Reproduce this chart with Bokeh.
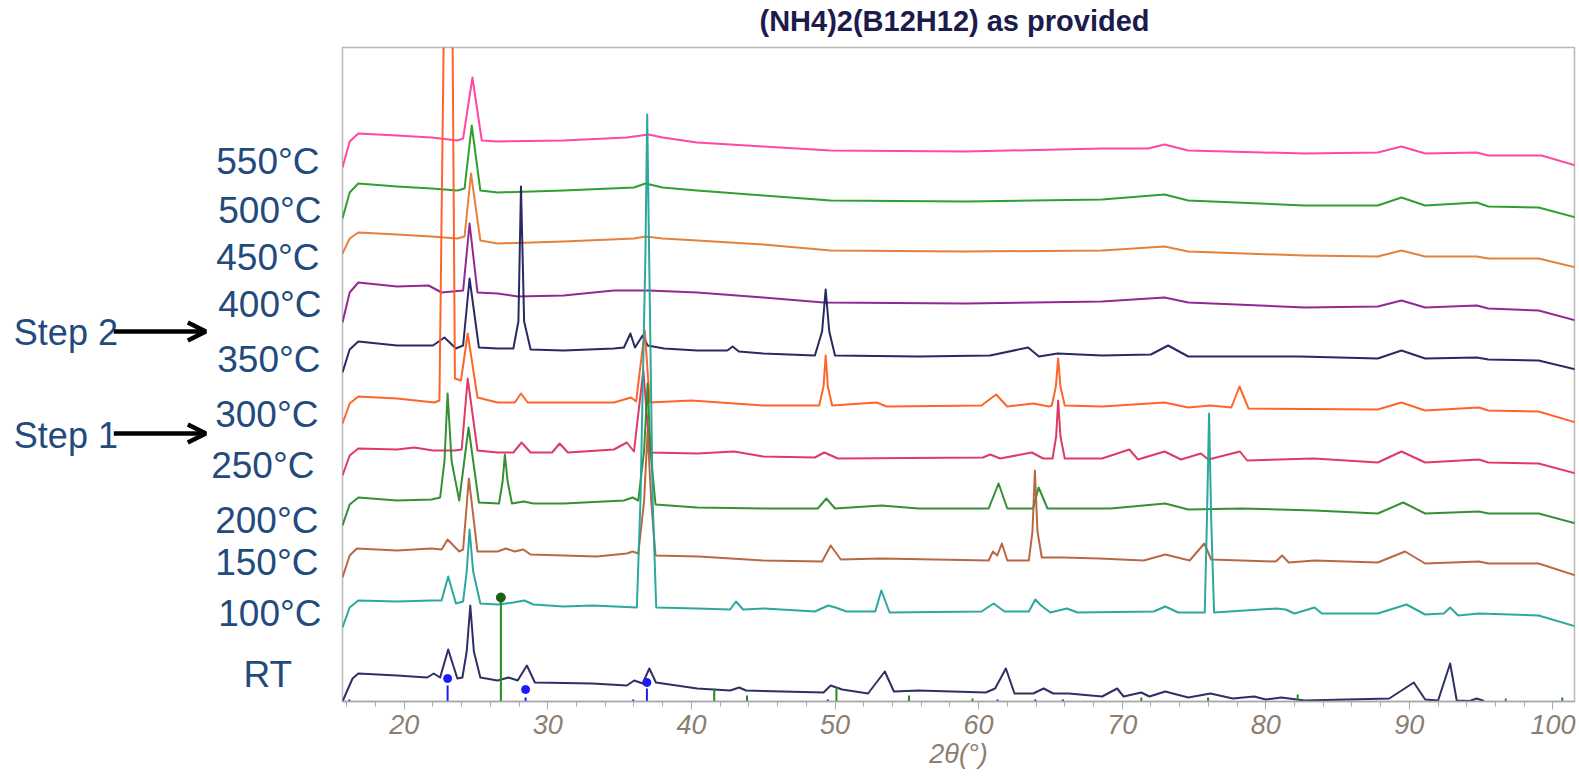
from bokeh.plotting import figure
from bokeh.layouts import row, column
from bokeh.models import Range1d, FixedTicker, Arrow, OpenHead
from bokeh.core.properties import value
from bokeh.embed import file_html
from bokeh.resources import INLINE

TITLE = "(NH4)2(B12H12) as provided"
X_LABEL = "2θ(°)"
X_TICKS = [20, 30, 40, 50, 60, 70, 80, 90, 100]
X_MINOR = [16, 18, 20, 22, 24, 26, 28, 30, 32, 34, 36, 38, 40, 42, 44, 46, 48, 50, 52, 54, 56, 58,
           60, 62, 64, 66, 68, 70, 72, 74, 76, 78, 80, 82, 84, 86, 88, 90, 92, 94, 96, 98, 100]

# ---- diffraction patterns (2θ, intensity incl. stacking offset) ----
X_550 = [15.7, 16.2, 16.8, 19.5, 21.9, 23.7, 24.1, 24.75, 25.4, 26.5, 31.1, 35.5, 37.0, 38.0, 40.4, 45.0,
         49.7, 59.1, 68.6, 71.8, 72.95, 74.6, 82.7, 87.8, 89.45, 91.1, 94.7, 95.5, 99.2, 101.6]
Y_550 = [534, 560, 568, 566, 564, 561, 563, 624, 561, 560, 561, 564, 567, 564, 559, 555,
         551, 550, 553, 553, 557, 551, 548, 549, 555, 548, 549, 546, 546, 536]

X_500 = [15.7, 16.2, 16.8, 19.5, 21.9, 23.7, 24.2, 24.7, 25.3, 26.5, 31.1, 36.0, 36.8, 38.0, 40.4, 45.0,
         49.7, 59.1, 68.6, 72.95, 74.6, 82.7, 87.8, 89.45, 91.1, 94.7, 95.5, 99.0, 101.6]
Y_500 = [483, 509, 518, 515, 513, 511, 513, 576, 511, 509, 511, 514, 518, 514, 511, 506,
         501, 500, 502, 507, 501, 496, 496, 504, 496, 499, 495, 494, 484]

X_450 = [15.7, 16.2, 16.8, 19.5, 21.9, 23.7, 24.2, 24.65, 25.3, 26.5, 31.1, 36.0, 36.8, 38.0, 40.4, 45.0,
         49.7, 59.1, 68.6, 72.95, 74.6, 82.7, 87.8, 89.45, 91.1, 94.7, 95.5, 99.0, 101.6]
Y_450 = [448, 463, 469, 467, 465, 463, 465, 528, 461, 458, 460, 463, 465, 463, 461, 457,
         451, 450, 451, 455, 450, 446, 445, 451, 445, 445, 443, 443, 434]

X_400 = [15.7, 16.2, 16.8, 19.5, 21.7, 22.6, 24.1, 24.55, 25.1, 26.5, 27.9, 31.1, 34.6, 37.0, 40.4, 45.0,
         49.2, 59.1, 68.6, 72.95, 74.6, 82.7, 87.8, 89.45, 91.1, 94.7, 95.5, 99.0, 101.6]
Y_400 = [379, 409, 419, 415, 416, 409, 411, 478, 409, 408, 405, 406, 411, 411, 409, 404,
         399, 398, 400, 404, 399, 394, 395, 401, 394, 396, 393, 391, 381]

X_350 = [15.7, 16.2, 16.8, 19.5, 22.0, 22.8, 23.6, 24.1, 24.55, 25.2, 26.5, 27.6, 27.95, 28.13, 28.35, 28.8,
         31.1, 34.6, 35.3, 35.75, 36.07, 36.6, 36.95, 38.1, 40.4, 42.5, 42.87, 43.3, 45.0, 48.6, 49.1,
         49.35, 49.6, 50.0, 55.8, 60.8, 63.45, 64.2, 65.5, 68.6, 72.0, 73.2, 74.6, 82.4, 87.8, 89.45,
         91.1, 94.7, 95.5, 99.0, 101.6]
Y_350 = [329, 352, 360, 356, 356, 364, 353, 356, 423, 354, 353, 353, 380, 515, 380, 352,
         351, 353, 354, 368, 354, 366, 356, 353, 351, 351, 355, 350, 348, 346, 370,
         412, 370, 346, 345, 346, 354, 345, 348, 346, 347, 356, 345, 345, 343, 351,
         343, 344, 342, 341, 332]

X_300 = [15.7, 16.2, 16.8, 19.5, 22.1, 22.45, 23.14, 23.53, 23.95, 24.42, 25.1, 26.5, 27.7, 28.13, 28.6, 31.1,
         34.6, 35.8, 36.15, 36.75, 37.1, 40.0, 45.0, 48.9, 49.2, 49.35, 49.5, 49.8, 52.9, 53.6, 60.2,
         61.22, 62.0, 63.8, 64.9, 65.1, 65.38, 65.54, 65.7, 66.0, 68.6, 72.95, 74.6, 76.15, 77.6,
         78.17, 78.8, 87.8, 89.45, 91.1, 94.85, 95.5, 99.0, 101.6]
Y_300 = [278, 298, 305, 303, 299, 301, 1137, 323, 321, 368, 304, 299, 299, 308, 299, 299,
         299, 304, 300, 371, 299, 301, 296, 296, 315, 346, 315, 296, 299, 295, 296,
         307, 295, 298, 295, 296, 315, 343, 315, 296, 295, 299, 294, 296, 294,
         315, 293, 292, 299, 291, 294, 291, 290, 279]

X_250 = [15.7, 16.2, 16.8, 19.5, 20.7, 22.0, 23.5, 24.0, 24.42, 25.1, 26.5, 27.6, 28.17, 28.8, 30.3, 30.82,
         31.4, 34.6, 35.5, 36.0, 36.65, 37.1, 40.4, 42.98, 45.0, 48.6, 49.25, 50.2, 60.3, 60.81, 61.5,
         63.7, 64.5, 65.15, 65.4, 65.54, 65.7, 66.0, 68.6, 70.5, 71.1, 72.95, 74.1, 75.48, 76.0, 78.2,
         78.7, 83.33, 87.8, 89.45, 91.1, 94.85, 95.5, 99.0, 101.6]
Y_250 = [226, 246, 253, 252, 254, 251, 251, 252, 323, 251, 249, 249, 259, 249, 249, 258,
         249, 252, 259, 250, 331, 249, 248, 250, 245, 244, 249, 243, 244, 247, 243,
         249, 243, 243, 265, 301, 265, 243, 243, 252, 242, 250, 242, 248, 242, 250,
         241, 243, 239, 250, 239, 242, 239, 238, 228]

X_200 = [15.7, 16.2, 16.8, 19.5, 21.9, 22.5, 22.8, 23.02, 23.3, 23.83, 24.48, 25.2, 26.6, 26.85, 27.01, 27.2,
         27.5, 28.31, 29.0, 31.1, 35.3, 35.9, 36.3, 36.7, 36.95, 37.15, 37.5, 40.4, 45.0, 48.8, 49.4,
         50.0, 53.23, 55.8, 60.7, 61.39, 62.0, 63.8, 64.18, 64.8, 69.2, 73.0, 74.6, 78.33, 83.4, 87.8,
         89.57, 91.1, 94.85, 95.5, 99.0, 101.6]
Y_200 = [176, 197, 204, 201, 202, 204, 240, 308, 240, 201, 274, 199, 198, 220, 247, 220,
         198, 200, 198, 198, 201, 204, 201, 250, 318, 250, 197, 194, 193, 193, 203,
         193, 196, 193, 193, 218, 193, 193, 214, 193, 193, 198, 192, 193, 191, 188,
         199, 188, 190, 188, 188, 178]

X_150 = [15.7, 16.2, 16.7, 19.5, 21.9, 22.6, 23.02, 23.83, 24.1, 24.5, 25.1, 26.5, 27.08, 27.7, 28.29, 28.8,
         33.4, 35.5, 35.9, 36.3, 36.7, 36.95, 37.2, 37.5, 40.5, 45.0, 49.1, 49.7, 50.4, 53.2, 60.7,
         61.0, 61.3, 61.62, 62.0, 63.5, 63.75, 63.92, 64.1, 64.4, 65.9, 68.4, 71.5, 73.0, 74.7, 75.72,
         76.2, 80.7, 81.14, 81.6, 83.4, 87.8, 89.7, 91.1, 94.85, 95.5, 99.0, 101.6]
Y_150 = [124, 146, 153, 151, 153, 152, 162, 150, 152, 223, 150, 150, 153, 150, 152, 147,
         145, 148, 150, 148, 200, 271, 200, 146, 145, 141, 140, 156, 142, 143, 141,
         150, 146, 158, 141, 141, 170, 231, 170, 144, 144, 143, 141, 147, 141, 158,
         142, 140, 146, 139, 141, 139, 150, 138, 140, 138, 138, 126]

X_100 = [15.7, 16.2, 16.8, 19.5, 21.9, 22.6, 23.06, 23.6, 24.1, 24.35, 24.55, 24.8, 25.3, 26.5, 27.6, 28.36,
         29.0, 31.1, 33.12, 36.2, 36.45, 36.8, 36.92, 37.05, 37.3, 37.55, 40.4, 42.7, 43.1, 43.6, 45.07,
         48.6, 49.53, 50.03, 50.8, 52.8, 53.23, 53.8, 60.2, 61.05, 61.8, 63.5, 63.95, 64.35, 65.0,
         66.14, 66.9, 72.2, 73.0, 73.9, 75.75, 75.9, 76.05, 76.2, 76.4, 80.7, 81.38, 82.0, 83.4,
         83.9, 87.8, 89.8, 91.1, 92.4, 92.84, 93.4, 94.85, 99.0, 101.6]
Y_100 = [74, 94, 101, 100, 101, 101, 125, 98, 100, 130, 172, 130, 98, 97, 99, 101,
         97, 95, 96, 94, 201, 451, 587, 451, 201, 94, 93, 92, 100, 92, 93,
         90, 96, 94, 90, 90, 111, 89, 90, 98, 90, 90, 102, 96, 89,
         93, 89, 90, 95, 89, 89, 181, 288, 181, 89, 93, 92, 88, 94,
         88, 88, 97, 87, 88, 94, 86, 88, 86, 75]

X_RT = [15.7, 16.0, 16.4, 16.8, 19.5, 21.6, 22.05, 22.5, 23.06, 23.7, 24.05, 24.35, 24.6, 24.85, 25.3, 26.5,
        27.27, 27.9, 28.54, 29.1, 33.1, 35.5, 36.02, 36.6, 37.07, 37.53, 40.4, 42.7, 43.33, 43.8, 49.2,
        49.7, 50.5, 52.3, 53.47, 54.1, 55.8, 60.5, 61.15, 61.9, 62.5, 63.8, 64.53, 65.2, 66.27, 68.6,
        69.65, 70.1, 71.33, 71.9, 73.0, 74.6, 76.15, 77.7, 79.19, 80.0, 81.1, 82.7, 88.6, 90.31, 91.1,
        92.0, 92.84, 93.3, 94.2, 94.69, 95.2]
Y_RT = [0, 10, 23, 28, 26, 24, 28, 24, 52, 23, 24, 50, 96, 50, 24, 21,
        24, 21, 36, 19, 18, 16, 21, 18, 33, 19, 13, 11, 14, 11, 9,
        16, 12, 8, 30, 10, 11, 9, 13, 33, 8, 8, 13, 8, 8, 5,
        13, 5, 9, 5, 10, 4, 8, 3, 5, 2, 4, 1, 3, 19, 2,
        1, 38, 1, 0.5, 3, 0.5]

SERIES_X = [X_550, X_500, X_450, X_400, X_350, X_300, X_250, X_200, X_150, X_100, X_RT]
SERIES_Y = [Y_550, Y_500, Y_450, Y_400, Y_350, Y_300, Y_250, Y_200, Y_150, Y_100, Y_RT]
SERIES_COLORS = ["#ff3d9e", "#249a24", "#e37a32", "#8c1c8c", "#1e1e5c", "#ff5c20",
                 "#dc305c", "#2a8a2a", "#b5603a", "#22a39a", "#24245e"]

TEMP_LABELS = ["550°C", "500°C", "450°C", "400°C", "350°C", "300°C", "250°C",
               "200°C", "150°C", "100°C", "RT"]
TEMP_X = [10.50, 10.64, 10.50, 10.64, 10.57, 10.43, 10.15, 10.43, 10.43, 10.64, 10.50]
TEMP_Y = [540, 491, 444, 397, 342, 287, 236, 181, 139, 88, 27]

STEP_LABELS = ["Step 2", "Step 1"]
STEP_X = [-7.19, -7.19]
STEP_Y = [369, 266]
ARROW_X0 = [-0.23, -0.23]
ARROW_X1 = [6.18, 6.18]
ARROW_Y = [370, 268]

# reference phase sticks
BLUE_X = [16.17, 23.02, 28.45, 35.95, 36.9, 49.5, 61.32, 63.95, 65.87]
BLUE_H = [2, 16, 4, 2, 13, 2, 2, 2, 2]
BLUE_DOT_X = [23.02, 28.45, 36.9]
BLUE_DOT_Y = [23, 12, 19]
GREEN_X = [26.73, 41.59, 43.87, 50.1, 55.15, 59.57, 71.33, 75.98, 82.22, 96.71, 100.65]
GREEN_H = [104, 13, 6, 14, 6, 3, 4, 4, 7, 3, 4]
GREEN_DOT_X = [26.73]
GREEN_DOT_Y = [104]

LABEL_COLOR = "#234a7d"
AXIS_TEXT_COLOR = "#8c7e72"

y_range = Range1d(0, 654)

# ---------- title strip ----------
head = figure(width=1579, height=45, x_range=Range1d(0, 1579), y_range=Range1d(0, 45),
              output_backend="svg", toolbar_location=None,
              min_border_left=0, min_border_right=0, min_border_top=0, min_border_bottom=0)
head.axis.visible = False
head.xgrid.visible = False
head.ygrid.visible = False
head.outline_line_color = None
head.text(x=[954], y=[25], text=[TITLE], text_align="center", text_baseline="middle",
          text_font=value("Liberation Sans"), text_font_size="29px", text_font_style="bold",
          text_color="#1c1c4c")

# ---------- main plot ----------
p = figure(width=1239, height=733, x_range=Range1d(15.7, 101.5), y_range=y_range,
           output_backend="svg", toolbar_location=None,
           min_border_left=2, min_border_right=5, min_border_top=2, min_border_bottom=77)
p.background_fill_color = "white"
p.border_fill_color = "white"
p.outline_line_color = "#b8b8b8"
p.outline_line_width = 1.5
p.xgrid.visible = False
p.ygrid.visible = False
p.yaxis.visible = False

ax = p.xaxis[0]
ax.ticker = FixedTicker(ticks=X_TICKS, minor_ticks=X_MINOR)
ax.axis_label = X_LABEL
ax.axis_line_color = "#a8a8a8"
ax.axis_line_width = 1.5
ax.major_tick_line_color = "#a8a8a8"
ax.minor_tick_line_color = "#a8a8a8"
ax.major_tick_in = 0
ax.major_tick_out = 8
ax.minor_tick_in = 0
ax.minor_tick_out = 5
ax.major_label_text_font = "Liberation Sans"
ax.major_label_text_font_style = "italic"
ax.major_label_text_font_size = "27px"
ax.major_label_text_color = AXIS_TEXT_COLOR
ax.major_label_standoff = 5
ax.axis_label_text_font = "Liberation Sans"
ax.axis_label_text_font_style = "italic"
ax.axis_label_text_font_size = "27px"
ax.axis_label_text_color = AXIS_TEXT_COLOR
ax.axis_label_standoff = 2

for xs, ys, c in zip(SERIES_X, SERIES_Y, SERIES_COLORS):
    p.line(xs, ys, line_color=c, line_width=2, line_join="round", line_alpha=0.95)

p.segment(x0=BLUE_X, y0=0, x1=BLUE_X, y1=BLUE_H, line_color="#1a1aff", line_width=2)
p.segment(x0=GREEN_X, y0=0, x1=GREEN_X, y1=GREEN_H, line_color="#228b22", line_width=2)
p.scatter(BLUE_DOT_X, BLUE_DOT_Y, size=8, fill_color="#1a1aff", line_color="#1a1aff")
p.scatter(GREEN_DOT_X, GREEN_DOT_Y, size=9, fill_color="#1b5e1b", line_color="#1b5e1b")

# ---------- left panel with temperature / step annotations ----------
left = figure(width=340, height=733, x_range=Range1d(-8.12, 15.56), y_range=y_range,
              output_backend="svg", toolbar_location=None,
              min_border_left=0, min_border_right=0, min_border_top=2, min_border_bottom=77)
left.axis.visible = False
left.xgrid.visible = False
left.ygrid.visible = False
left.outline_line_color = None
left.background_fill_color = "white"
left.border_fill_color = "white"

left.text(x=TEMP_X, y=TEMP_Y, text=TEMP_LABELS, text_align="center", text_baseline="middle",
          text_font=value("Liberation Sans"), text_font_size="37px", text_color=LABEL_COLOR)
left.text(x=STEP_X, y=STEP_Y, text=STEP_LABELS, text_align="left", text_baseline="middle",
          text_font=value("Liberation Sans"), text_font_size="36px", text_color=LABEL_COLOR)

for x0, x1, yv in zip(ARROW_X0, ARROW_X1, ARROW_Y):
    left.add_layout(Arrow(end=OpenHead(size=18, line_width=4.5, line_color="black"),
                          x_start=x0, y_start=yv, x_end=x1, y_end=yv,
                          line_color="black", line_width=4.5))

layout = column(head, row(left, p, spacing=0), spacing=0)
open("out.html", "w").write(file_html(layout, INLINE))
